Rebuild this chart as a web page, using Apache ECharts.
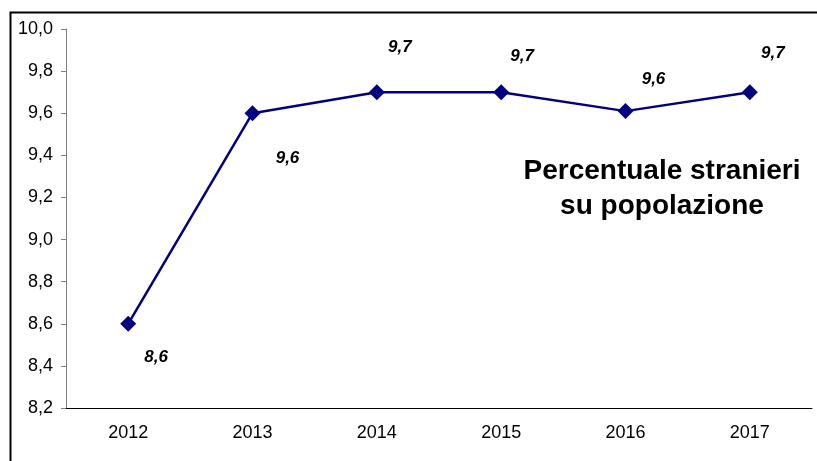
<!DOCTYPE html>
<html lang="it">
<head>
	<meta charset="UTF-8">
	<title>Percentuale stranieri su popolazione</title>
	<script src="https://cdn.jsdelivr.net/npm/echarts@6/dist/echarts.min.js"></script>
	<style>
		body{margin:0;background:#fff}
	</style>
</head>
<body>
	<div id="app" style="width:817px;height:461px"></div>

	<script>
		var anni=["2012","2013","2014","2015","2016","2017"];
		var percentuale=[8.6, 9.6, 9.7, 9.7, 9.61, 9.7];
		var etichette=["8,6","9,6","9,7","9,7","9,6","9,7"];
		// spostamento delle etichette rispetto al punto
		var spostamenti=[[28,34],[35,45],[23,-45],[21,-36],[28,-32],[23,-39]];

		var virgola=function(v){ return v.toFixed(1).replace('.', ','); };

		var punti=percentuale.map(function(v,i){
			return {
				value:v,
				label:{formatter:etichette[i], offset:spostamenti[i]}
			};
		});

		var myChart=echarts.init(document.getElementById('app'));
		var option={
			animation:false,
			grid:{left:66,right:5,top:29,bottom:53},
			title:{
				text:"Percentuale stranieri\nsu popolazione",
				left:657,
				top:149,
				textAlign:'center',
				textStyle:{fontFamily:'Liberation Sans',fontSize:28,fontWeight:'bold',color:'#000',lineHeight:35}
			},
			graphic:[{//cornice
				type:'rect',
				shape:{x:10.5,y:12.5,width:900,height:600},
				style:{fill:'none',stroke:'#000',lineWidth:2}
			}],
			xAxis:{
				type:"category",
				data:anni,
				axisLine:{lineStyle:{color:'#000',width:1}},
				axisTick:{length:5,lineStyle:{color:'#808080'}},
				axisLabel:{fontFamily:'Liberation Sans',fontSize:18,color:'#000',margin:16}
			},
			yAxis:{
				type:"value",
				min:8.2,
				max:10.0,
				interval:0.2,
				splitLine:{show:false},
				axisLine:{show:true,lineStyle:{color:'#808080',width:1}},
				axisTick:{show:true,length:5,lineStyle:{color:'#808080'}},
				axisLabel:{fontFamily:'Liberation Sans',fontSize:18,color:'#000',margin:13,formatter:virgola}
			},
			series:[{
				type:"line",
				data:punti,
				symbol:'diamond',
				symbolSize:16,
				lineStyle:{color:'#000080',width:2.5},
				itemStyle:{color:'#000080'},
				label:{
					show:true,
					position:'inside',
					fontFamily:'Liberation Sans',
					fontSize:17,
					fontWeight:'bold',
					fontStyle:'italic',
					color:'#000'
				}
			}]
		};
		myChart.setOption(option);
	</script>
</body>
</html>
